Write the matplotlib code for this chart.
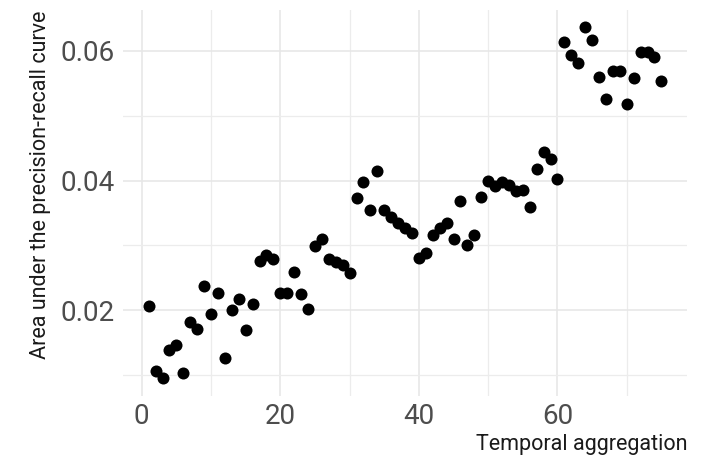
import matplotlib
matplotlib.use("Agg")
import matplotlib.pyplot as plt
from matplotlib.ticker import FixedLocator

x_vals = list(range(1, 76))
auprc = [
    0.0207, 0.0106, 0.0095, 0.0139, 0.0146, 0.0103, 0.0182, 0.0171, 0.0238, 0.0195,
    0.0227, 0.0126, 0.0201, 0.0217, 0.0169, 0.0209, 0.0276, 0.0286, 0.0279, 0.0226,
    0.0227, 0.0259, 0.0225, 0.0202, 0.0299, 0.0310, 0.0279, 0.0274, 0.0270, 0.0257,
    0.0373, 0.0397, 0.0354, 0.0414, 0.0354, 0.0344, 0.0335, 0.0327, 0.0319, 0.0281,
    0.0288, 0.0316, 0.0327, 0.0335, 0.0310, 0.0369, 0.0300, 0.0316, 0.0375, 0.0400,
    0.0391, 0.0398, 0.0393, 0.0384, 0.0386, 0.0359, 0.0418, 0.0444, 0.0433, 0.0403,
    0.0613, 0.0593, 0.0581, 0.0636, 0.0617, 0.0560, 0.0526, 0.0568, 0.0568, 0.0518,
    0.0558, 0.0598, 0.0598, 0.0590, 0.0554,
]
x_ticks = [0, 20, 40, 60]
y_ticks = [0.02, 0.04, 0.06]
y_tick_labels = ["0.02", "0.04", "0.06"]
x_label = "Temporal aggregation"
y_label = "Area under the precision-recall curve"

plt.rcParams["font.family"] = ["Roboto", "DejaVu Sans"]

fig = plt.figure(figsize=(7.05, 4.62), dpi=100)
ax = fig.add_axes([0.1745, 0.1429, 0.8, 0.8344])

ax.scatter(x_vals, auprc, s=75, color="black", linewidths=0, zorder=3)

ax.set_xlim(-2.7, 78.7)
ax.set_ylim(0.0068, 0.0662)
ax.xaxis.set_major_locator(FixedLocator(x_ticks))
ax.xaxis.set_minor_locator(FixedLocator([10, 30, 50, 70]))
ax.yaxis.set_major_locator(FixedLocator(y_ticks))
ax.yaxis.set_minor_locator(FixedLocator([0.01, 0.03, 0.05]))
ax.set_yticklabels(y_tick_labels)

ax.grid(which="major", color="#e6e6e6", linewidth=1.1, zorder=0)
ax.grid(which="minor", color="#ececec", linewidth=0.9, zorder=0)
ax.set_axisbelow(True)
for s in ax.spines.values():
    s.set_visible(False)
ax.tick_params(which="both", length=0)
ax.tick_params(axis="both", labelsize=20, labelcolor="#4d4d4d")
ax.tick_params(axis="x", pad=5)
ax.tick_params(axis="y", pad=6)

ax.set_xlabel(x_label, fontsize=15.5, color="#1a1a1a", loc="right", labelpad=3)
ax.set_ylabel(y_label, fontsize=15.5, color="#1a1a1a", loc="top", labelpad=7)

fig.savefig("out.png", dpi=100, facecolor="white")
